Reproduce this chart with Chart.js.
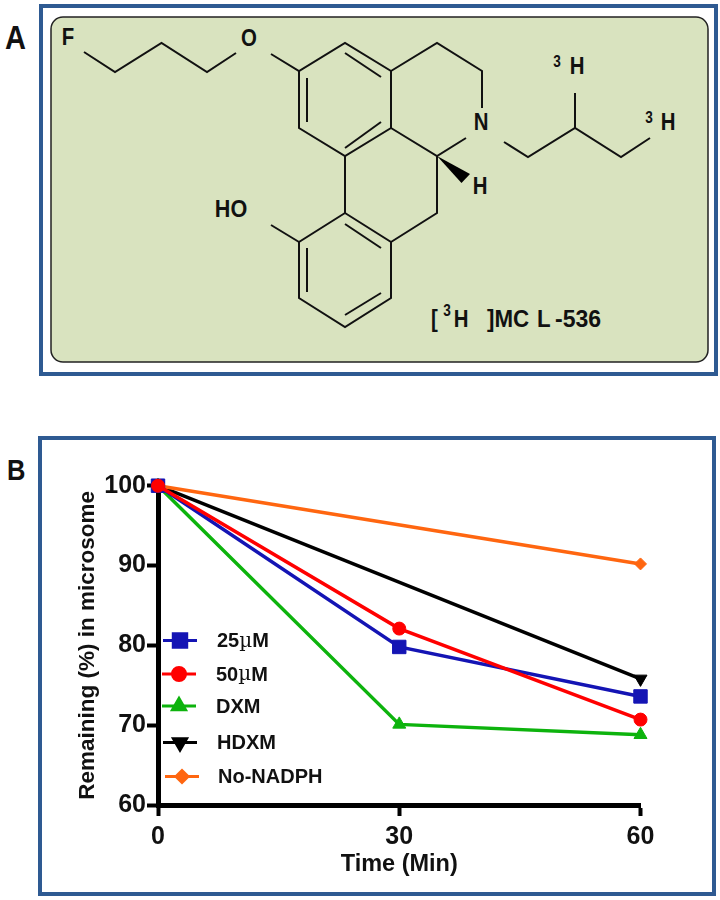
<!DOCTYPE html>
<html>
<head>
<meta charset="utf-8">
<title>[3H]MCL-536</title>
<script src="https://cdn.jsdelivr.net/npm/chart.js@4/dist/chart.umd.js"></script>
<style>
html, body { margin: 0; padding: 0; background: #fff; }
body { width: 720px; height: 900px; position: relative; overflow: hidden; font-family: "Liberation Sans", Arial, sans-serif; }
.panel { position: absolute; box-sizing: border-box; border: 4px solid #2e5a92; }
#panelA { left: 39px; top: 4px; width: 679px; height: 372px; }
#panelB { left: 38px; top: 436px; width: 678px; height: 460px; }
#mol { position: absolute; left: 0; top: 0; }
.letter { position: absolute; font-weight: bold; color: #111; transform: scaleX(0.88); transform-origin: left top; }
#chartBox { position: absolute; left: 0; top: 430px; width: 720px; height: 470px; }
</style>
</head>
<body>
<div class="letter" style="left:5px;top:20px;font-size:33px;line-height:36px">A</div>
<div class="letter" style="left:7px;top:454px;font-size:29px;line-height:32px">B</div>
<div class="panel" id="panelA"></div>
<div class="panel" id="panelB"></div>

<!-- estructura de la molecula, panel A -->
<svg id="mol" width="720" height="400" font-family="Liberation Sans, Arial, sans-serif" font-weight="bold" font-size="24" fill="#111">
  <rect x="51" y="17" width="657" height="345" rx="12" ry="12" fill="#d9e3bf" stroke="#222" stroke-width="1.5"/>
  <g fill="none" stroke="#111" stroke-width="2">
    <polyline points="84,52 115,72 161.5,43 207,72 236,53"/>
    <polyline points="271,54 299,71 345,43 391,71 391,128 345,156 299,128 299,71"/>
    <line x1="307" y1="78" x2="307" y2="122"/>
    <line x1="345" y1="53" x2="381" y2="77"/>
    <line x1="345" y1="148" x2="381" y2="122"/>
    <polyline points="391,71 437,43 482,71 482,108"/>
    <polyline points="466,138 437,156 391,128"/>
    <polyline points="437,156 437,213 391,242"/>
    <line x1="345" y1="156" x2="345" y2="213"/>
    <polyline points="345,213 391,242 391,298 345,327 299,298 299,242 345,213"/>
    <line x1="307" y1="248" x2="307" y2="292"/>
    <line x1="345" y1="224" x2="381" y2="248"/>
    <line x1="345" y1="315" x2="381" y2="293"/>
    <line x1="271" y1="225" x2="299" y2="242"/>
    <polyline points="504,142 528,157 575,128 621,157 650,138"/>
    <line x1="575" y1="128" x2="575" y2="93"/>
  </g>
  <polygon points="437,156 470,174 461.5,183" fill="#000"/>
  <text transform="translate(68,45) scale(.85,1)" text-anchor="middle">F</text>
  <text transform="translate(249,46) scale(.85,1)" text-anchor="middle">O</text>
  <text transform="translate(481,130) scale(.85,1)" text-anchor="middle">N</text>
  <text transform="translate(480,194) scale(.85,1)" text-anchor="middle">H</text>
  <text transform="translate(231,217) scale(.9,1)" text-anchor="middle">HO</text>
  <text transform="translate(557,67) scale(.85,1)" text-anchor="middle" font-size="16">3</text>
  <text transform="translate(577,74) scale(.85,1)" text-anchor="middle">H</text>
  <text transform="translate(649,123) scale(.85,1)" text-anchor="middle" font-size="16">3</text>
  <text transform="translate(668,130) scale(.85,1)" text-anchor="middle">H</text>
  <text transform="translate(431,327) scale(.85,1)">[</text>
  <text transform="translate(447,316) scale(.85,1)" text-anchor="middle" font-size="16">3</text>
  <text transform="translate(461,327) scale(.85,1)" text-anchor="middle">H</text>
  <text transform="translate(487,327) scale(.93,1)">]MC</text>
  <text transform="translate(537,327) scale(.93,1)">L</text>
  <text transform="translate(555,327) scale(.96,1)">-536</text>
</svg>

<div id="chartBox"><canvas id="timeChart" width="720" height="470"></canvas></div>

<script>
// Datos
const timeTicks = [0, 30, 60];
const percentTicks = [60, 70, 80, 90, 100];
const seriesNames = ['25µM', '50µM', 'DXM', 'HDXM', 'No-NADPH'];
const times25uM = [0, 30, 60];
const values25uM = [100, 79.8, 73.6];
const times50uM = [0, 30, 60];
const values50uM = [100, 82.1, 70.7];
const timesDxm = [0, 30, 60];
const valuesDxm = [100, 70.1, 68.8];
const timesHdxm = [0, 60];
const valuesHdxm = [100, 75.8];
const timesNoNadph = [0, 60];
const valuesNoNadph = [100, 90.2];

function toPoints(xs, ys) {
    return xs.map((x, i) => ({ x: x, y: ys[i] }));
}

// Función para crear cada serie con su marcador
function makeSeries(name, xs, ys, color, style, radius, rotation, order) {
    return {
        label: name,
        data: toPoints(xs, ys),
        borderColor: color,
        backgroundColor: color,
        borderWidth: 3.5,
        pointBorderWidth: 1,
        pointStyle: style,
        pointRadius: radius,
        pointRotation: rotation,
        order: order,
        clip: false,
        tension: 0
    };
}

// Leyenda dentro del area del grafico, con linea y marcador
const insideLegend = {
    id: 'insideLegend',
    afterDatasetsDraw(chart) {
        const ctx = chart.ctx;
        const rowY = [210.5, 244, 276, 312.5, 346.5];
        const lineX = [163, 162, 162, 163, 165];
        const textX = [217, 216, 216, 217, 218];
        const byName = {};
        chart.data.datasets.forEach(ds => { byName[ds.label] = ds; });
        seriesNames.forEach((name, i) => {
            const ds = byName[name];
            ctx.save();
            ctx.strokeStyle = ds.borderColor;
            ctx.lineWidth = 3;
            ctx.beginPath();
            ctx.moveTo(lineX[i], rowY[i]);
            ctx.lineTo(lineX[i] + 34, rowY[i]);
            ctx.stroke();
            ctx.fillStyle = ds.backgroundColor;
            Chart.helpers.drawPoint(ctx, {
                pointStyle: ds.pointStyle,
                radius: ds.pointRadius,
                rotation: ds.pointRotation,
                borderWidth: 1
            }, lineX[i] + 17, rowY[i]);
            ctx.fillStyle = '#111';
            ctx.textBaseline = 'middle';
            ctx.textAlign = 'left';
            let x = textX[i];
            // la letra griega va en otra fuente, como en la figura
            name.split(/(µ)/).filter(Boolean).forEach(part => {
                ctx.font = part === 'µ' ? '20px "DejaVu Serif"' : 'bold 20px "Liberation Sans"';
                ctx.fillText(part, x, rowY[i] + 1);
                x += ctx.measureText(part).width;
            });
            ctx.restore();
        });
    }
};

function initChart() {
    const ctx = document.getElementById('timeChart').getContext('2d');
    new Chart(ctx, {
        type: 'line',
        data: {
            datasets: [
                makeSeries(seriesNames[0], times25uM, values25uM, '#1414b4', 'rect', 9.5, 0, 1),
                makeSeries(seriesNames[1], times50uM, values50uM, '#ff0000', 'circle', 6.5, 0, 0),
                makeSeries(seriesNames[2], timesDxm, valuesDxm, '#0db30d', 'triangle', 7.5, 0, 4),
                makeSeries(seriesNames[3], timesHdxm, valuesHdxm, '#000000', 'triangle', 7.5, 180, 3),
                makeSeries(seriesNames[4], timesNoNadph, valuesNoNadph, '#ff6610', 'rectRot', 6, 0, 2)
            ]
        },
        plugins: [insideLegend],
        options: {
            responsive: false,
            animation: false,
            layout: { padding: { top: 55.7, right: 79.5, bottom: 0, left: 0 } },
            plugins: {
                legend: { display: false },
                tooltip: { enabled: false }
            },
            scales: {
                x: {
                    type: 'linear',
                    min: 0,
                    max: 60,
                    afterFit: scale => { scale.height = 95; },
                    afterBuildTicks: scale => { scale.ticks = timeTicks.map(v => ({ value: v })); },
                    border: { color: '#000', width: 5 },
                    grid: { drawOnChartArea: false, drawTicks: true, tickLength: 11, tickWidth: 4, tickColor: '#000' },
                    ticks: {
                        color: '#111',
                        padding: 6,
                        maxRotation: 0,
                        font: { family: 'Liberation Sans', weight: 'bold', size: 25 }
                    },
                    title: {
                        display: true,
                        text: 'Time (Min)',
                        color: '#111',
                        font: { family: 'Liberation Sans', weight: 'bold', size: 23.5 },
                        padding: { top: 0, bottom: 21 }
                    }
                },
                y: {
                    min: 60,
                    max: 100,
                    afterFit: scale => { scale.width = 158; },
                    afterBuildTicks: scale => { scale.ticks = percentTicks.map(v => ({ value: v })); },
                    border: { color: '#000', width: 5 },
                    grid: { drawOnChartArea: false, drawTicks: true, tickLength: 11, tickWidth: 4, tickColor: '#000' },
                    ticks: {
                        color: '#111',
                        padding: 1,
                        font: { family: 'Liberation Sans', weight: 'bold', size: 25 }
                    },
                    title: {
                        display: true,
                        text: 'Remaining (%) in microsome',
                        color: '#111',
                        font: { family: 'Liberation Sans', weight: 'bold', size: 22.5 },
                        padding: { top: 74, bottom: 0 }
                    }
                }
            }
        }
    });
}

document.addEventListener('DOMContentLoaded', initChart);
</script>
</body>
</html>
